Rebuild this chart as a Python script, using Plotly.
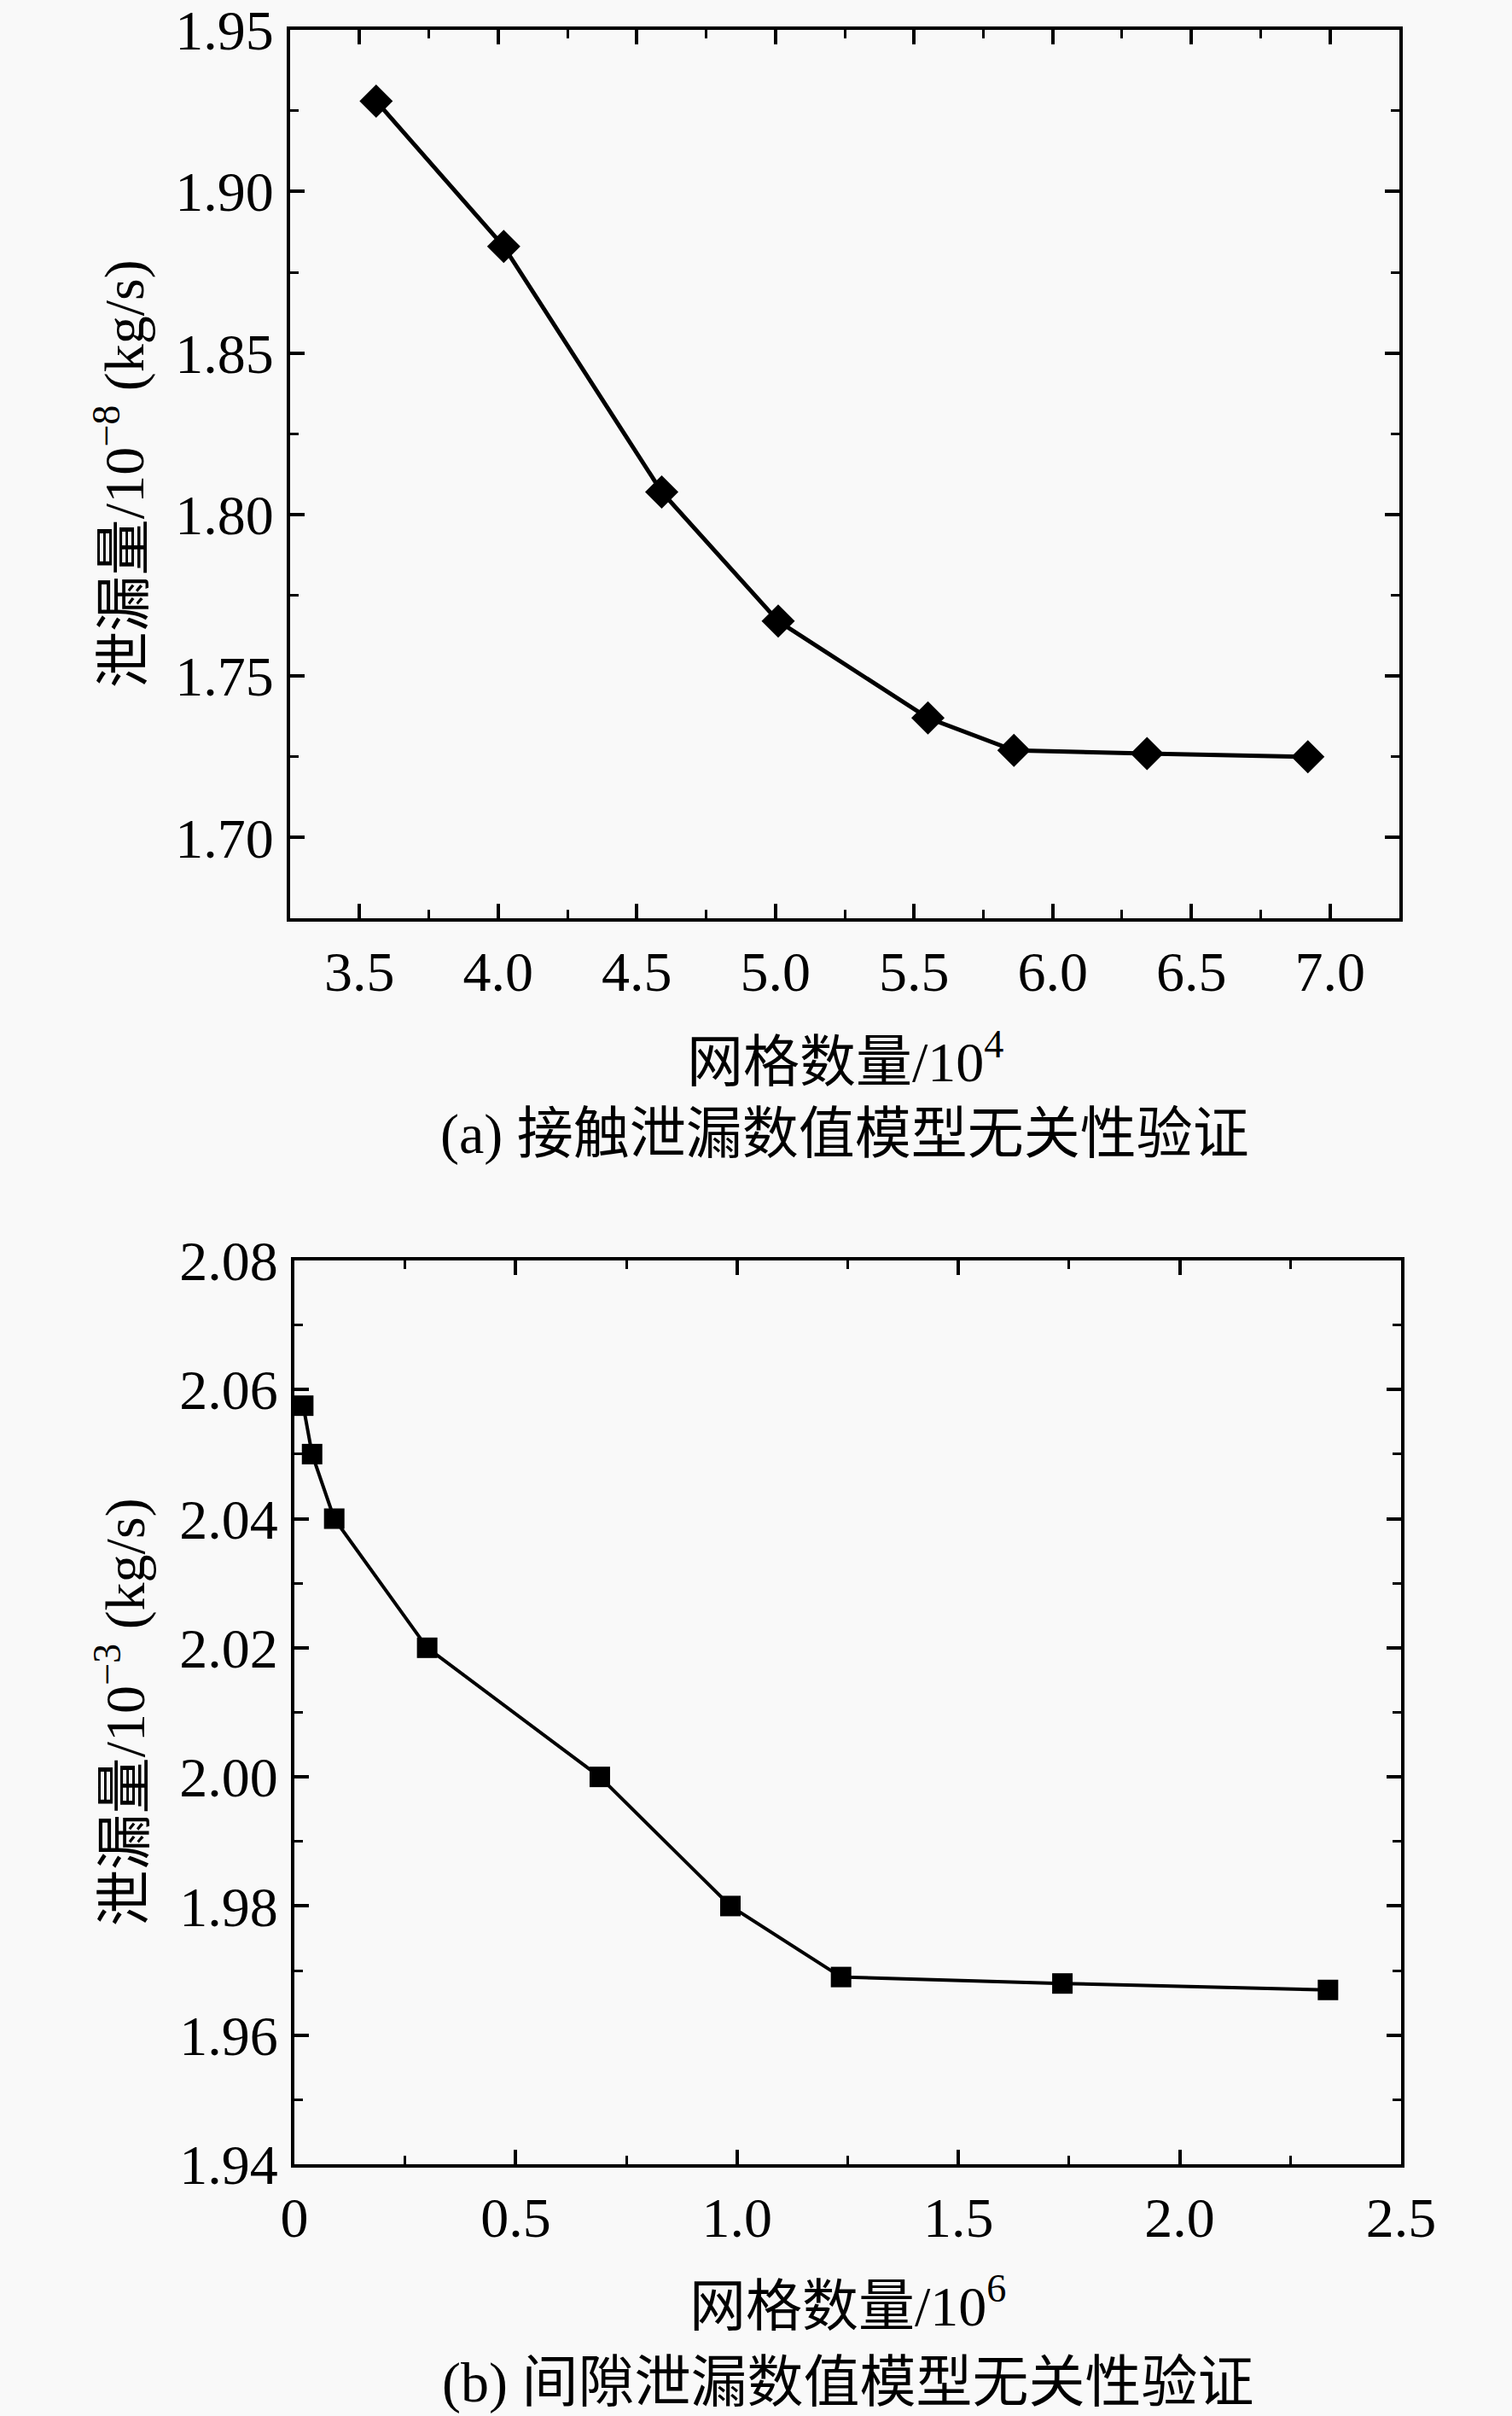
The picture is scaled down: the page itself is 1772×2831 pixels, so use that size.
import plotly.graph_objects as go

# (a) contact leakage model - mesh count (10^4) vs leakage (10^-8 kg/s)
a_mesh = [3.56, 4.02, 4.59, 5.01, 5.55, 5.86, 6.34, 6.92]
a_leak = [1.928, 1.883, 1.807, 1.767, 1.737, 1.727, 1.726, 1.725]

# (b) gap leakage model - mesh count (10^6) vs leakage (10^-3 kg/s)
b_mesh = [0.02, 0.04, 0.09, 0.30, 0.69, 0.985, 1.235, 1.735, 2.335]
b_leak = [2.0575, 2.050, 2.040, 2.020, 2.000, 1.980, 1.969, 1.968, 1.967]

b_xticks = [0, 0.5, 1.0, 1.5, 2.0, 2.5]
b_xlabels = ["0", "0.5", "1.0", "1.5", "2.0", "2.5"]

FONT = "Liberation Serif, Noto Sans CJK SC, serif"
BG = "#f9f9f9"

fig = go.Figure()
fig.add_trace(go.Scatter(
    x=a_mesh, y=a_leak, mode="lines+markers", xaxis="x", yaxis="y",
    line=dict(color="black", width=5),
    marker=dict(symbol="diamond", size=30, color="black"),
    showlegend=False,
))
fig.add_trace(go.Scatter(
    x=b_mesh, y=b_leak, mode="lines+markers", xaxis="x2", yaxis="y2",
    line=dict(color="black", width=4),
    marker=dict(symbol="square", size=24, color="black"),
    showlegend=False,
))


def axis_style(**kw):
    d = dict(
        showline=True, linecolor="black", linewidth=4, mirror="ticks",
        ticks="inside", ticklen=17, tickwidth=4, tickcolor="black",
        showgrid=False, zeroline=False, automargin=False,
        ticklabeloverflow="allow",
        tickfont=dict(family=FONT, size=66, color="black"),
    )
    d.update(kw)
    return d


def minor(step):
    return dict(dtick=step, ticks="inside", ticklen=10, tickwidth=3,
                tickcolor="black", showgrid=False)


fig.update_layout(
    template="none",
    width=1772, height=2831, autosize=False,
    margin=dict(l=0, r=0, t=0, b=0),
    paper_bgcolor=BG, plot_bgcolor=BG,
    font=dict(family=FONT, color="black"),
    xaxis=axis_style(domain=[0.1919, 0.9255], range=[3.25, 7.25], anchor="y",
                     dtick=0.5, tick0=3.5, tickformat=".1f", minor=minor(0.25),
                     ticklabelstandoff=2),
    yaxis=axis_style(domain=[0.6199, 0.9876], range=[1.675, 1.95], anchor="x",
                     dtick=0.05, tick0=1.70, tickformat=".2f", minor=minor(0.025),
                     ticklabelstandoff=2),
    xaxis2=axis_style(domain=[0.1947, 0.9266], range=[0, 2.5], anchor="y2",
                      tickvals=b_xticks, ticktext=b_xlabels, minor=minor(0.25),
                      ticklabelstandoff=2),
    yaxis2=axis_style(domain=[0.1042, 0.4783], range=[1.94, 2.08], anchor="x2",
                      dtick=0.02, tick0=1.94, tickformat=".2f", minor=minor(0.01),
                      ticklabelstandoff=2),
)

texts = [
    # (text, x, y, angle)
    ("网格数量/10<sup>4</sup>", 0.5587, 0.5623, 0),
    ("(a) 接触泄漏数值模型无关性验证", 0.5587, 0.5306, 0),
    ("泄漏量/10<sup>−8</sup> (kg/s)", 0.0800, 0.8038, -90),
    ("网格数量/10<sup>6</sup>", 0.5607, 0.0470, 0),
    ("(b) 间隙泄漏数值模型无关性验证", 0.5607, 0.0138, 0),
    ("泄漏量/10<sup>−3</sup> (kg/s)", 0.0800, 0.2912, -90),
]
for t, x, y, ang in texts:
    fig.add_annotation(text=t, x=x, y=y, xref="paper", yref="paper",
                       xanchor="center", yanchor="middle", showarrow=False,
                       textangle=ang, font=dict(family=FONT, size=66, color="black"))

# drop the default page margin so the figure sits at the window's corner
fig.write_html("out.html", config={"displayModeBar": False},
               post_script="document.body.style.margin='0';document.body.style.overflow='hidden';")
